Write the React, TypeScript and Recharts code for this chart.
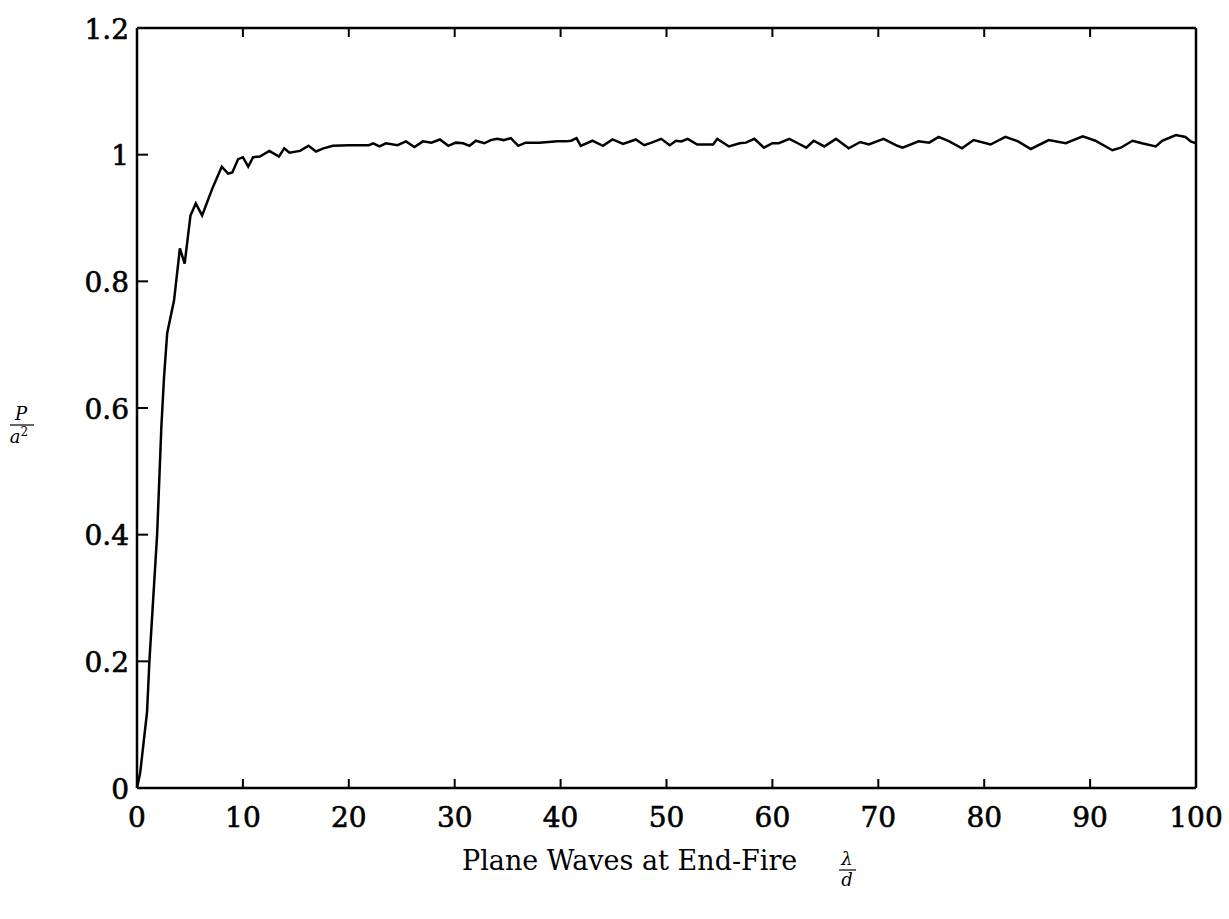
import { LineChart, Line, XAxis, YAxis } from "recharts";

// lambda / d values (x) and normalised power P / a^2 (y)
const lambdaOverD = [
  0, 0.3, 0.95, 1.17, 1.9, 2.3, 2.55, 2.85, 3.5, 4.05, 4.5, 5.05, 5.55, 6.15,
  7.1, 8.0, 8.6, 9.0, 9.55, 10.0, 10.5, 10.96, 11.6, 12.5, 13.4, 13.9, 14.4,
  15.4, 16.2, 16.9, 17.6, 18.5, 20.0, 21.9, 22.3, 22.9, 23.5, 24.6, 25.4, 26.2,
  27.0, 27.8, 28.6, 29.4, 30.1, 30.8, 31.4, 32.0, 32.8, 33.4, 34.0, 34.6, 35.3,
  36.0, 36.7, 38.0, 39.7, 40.5, 41.0, 41.5, 41.9, 43.0, 44.0, 44.9, 45.9, 47.1,
  47.9, 48.6, 49.5, 50.3, 50.9, 51.4, 52.0, 52.9, 54.4, 54.8, 55.9, 56.9, 57.5,
  58.3, 59.2, 60.0, 60.6, 61.6, 62.4, 63.2, 63.9, 64.9, 66.0, 67.2, 68.3, 69.1,
  70.5, 71.8, 72.3, 73.8, 74.8, 75.7, 76.7, 77.9, 79.0, 80.6, 82.0, 83.2, 84.4,
  86.1, 87.7, 89.3, 90.5, 92.1, 92.9, 94.0, 94.9, 96.2, 96.8, 98.1, 99.0, 99.5,
  100,
];

const powerRatio = [
  0, 0.024, 0.12, 0.2, 0.4, 0.57, 0.648, 0.718, 0.77, 0.852, 0.828, 0.904,
  0.923, 0.904, 0.946, 0.981, 0.97, 0.972, 0.993, 0.996, 0.981, 0.996, 0.997,
  1.006, 0.997, 1.01, 1.003, 1.006, 1.014, 1.005, 1.01, 1.014, 1.015, 1.015,
  1.018, 1.013, 1.018, 1.015, 1.021, 1.012, 1.021, 1.019, 1.024, 1.014, 1.019,
  1.018, 1.014, 1.022, 1.018, 1.023, 1.025, 1.023, 1.026, 1.014, 1.019, 1.019,
  1.021, 1.021, 1.022, 1.026, 1.014, 1.022, 1.014, 1.024, 1.017, 1.024, 1.015,
  1.019, 1.025, 1.015, 1.022, 1.021, 1.025, 1.016, 1.016, 1.025, 1.013, 1.018,
  1.019, 1.025, 1.011, 1.018, 1.018, 1.025, 1.018, 1.011, 1.022, 1.013, 1.025,
  1.01, 1.02, 1.016, 1.025, 1.014, 1.011, 1.021, 1.019, 1.028, 1.021, 1.01,
  1.023, 1.016, 1.028, 1.021, 1.009, 1.023, 1.018, 1.029, 1.022, 1.007, 1.011,
  1.022, 1.018, 1.013, 1.022, 1.031, 1.028, 1.021, 1.018,
];

const xTicks = [0, 10, 20, 30, 40, 50, 60, 70, 80, 90, 100];
const xTickLabels = ["0", "10", "20", "30", "40", "50", "60", "70", "80", "90", "100"];
const yTicks = [0, 0.2, 0.4, 0.6, 0.8, 1, 1.2];
const yTickLabels = ["0", "0.2", "0.4", "0.6", "0.8", "1", "1.2"];

const data = lambdaOverD.map((x, i) => ({ x, p: powerRatio[i] }));

const serif = { fontFamily: '"DejaVu Serif", "Liberation Serif", serif' };
const TICK_FONT = 28;
const TICK_LEN = 9;

const BottomTick = (props: any) => {
  const { x, y, payload } = props;
  const i = xTicks.indexOf(payload.value);
  return (
    <g>
      <line x1={x} y1={y} x2={x} y2={y - TICK_LEN} stroke="#000" strokeWidth={2} />
      <text
        x={x}
        y={y + 29}
        textAnchor="middle"
        dominantBaseline="central"
        style={serif}
        fontSize={TICK_FONT}
        fill="#000"
        stroke="#000"
        strokeWidth={0.6}
      >
        {xTickLabels[i]}
      </text>
    </g>
  );
};

const TopTick = (props: any) => {
  const { x, y } = props;
  return <line x1={x} y1={y} x2={x} y2={y + TICK_LEN} stroke="#000" strokeWidth={2} />;
};

const LeftTick = (props: any) => {
  const { x, y, payload } = props;
  const i = yTicks.indexOf(payload.value);
  return (
    <g>
      <line x1={x} y1={y} x2={x + TICK_LEN + 2} y2={y} stroke="#000" strokeWidth={2} />
      <text
        x={x - 8}
        y={y + 1}
        textAnchor="end"
        dominantBaseline="central"
        style={serif}
        fontSize={TICK_FONT}
        fill="#000"
        stroke="#000"
        strokeWidth={0.6}
      >
        {yTickLabels[i]}
      </text>
    </g>
  );
};

const RightTick = (props: any) => {
  const { x, y } = props;
  return <line x1={x} y1={y} x2={x - TICK_LEN - 2} y2={y} stroke="#000" strokeWidth={2} />;
};

export default function App() {
  const axisLine = { stroke: "#000", strokeWidth: 2.5 };
  return (
    <div style={{ position: "absolute", left: 0, top: 0, width: 1229, height: 919, background: "#fff" }}>
      <LineChart
        width={1229}
        height={919}
        data={data}
        margin={{ top: 27, right: 32, bottom: 101, left: 107 }}
      >
        <XAxis
          dataKey="x"
          type="number"
          domain={[0, 100]}
          ticks={xTicks}
          height={30}
          axisLine={axisLine}
          tickLine={false}
          tickSize={0}
          tickMargin={0}
          tick={<BottomTick />}
          interval={0}
        />
        <XAxis
          xAxisId="top"
          orientation="top"
          dataKey="x"
          type="number"
          domain={[0, 100]}
          ticks={xTicks}
          height={1}
          axisLine={axisLine}
          tickLine={false}
          tickSize={0}
          tickMargin={0}
          tick={<TopTick />}
          interval={0}
        />
        <YAxis
          type="number"
          domain={[0, 1.2]}
          ticks={yTicks}
          width={30}
          axisLine={axisLine}
          tickLine={false}
          tickSize={0}
          tickMargin={0}
          tick={<LeftTick />}
          interval={0}
        />
        <YAxis
          yAxisId="right"
          orientation="right"
          type="number"
          domain={[0, 1.2]}
          ticks={yTicks}
          width={1}
          axisLine={axisLine}
          tickLine={false}
          tickSize={0}
          tickMargin={0}
          tick={<RightTick />}
          interval={0}
        />
        <Line
          type="linear"
          dataKey="p"
          stroke="#000"
          strokeWidth={2.5}
          dot={false}
          isAnimationActive={false}
        />
      </LineChart>
      <svg
        width={1229}
        height={919}
        style={{ position: "absolute", left: 0, top: 0, pointerEvents: "none", ...serif }}
      >
        {/* y axis label: P / a^2 */}
        <g fontStyle="italic" fill="#000">
          <text x={21} y={420} textAnchor="middle" fontSize={18} style={serif}>P</text>
          <line x1={10} y1={425} x2={34} y2={425} stroke="#000" strokeWidth={1.2} />
          <text x={19} y={443} textAnchor="middle" fontSize={18} style={serif}>
            a<tspan dy={-7} fontSize={12} fontStyle="normal">2</tspan>
          </text>
        </g>
        {/* x axis label */}
        <text x={462} y={870} fontSize={27} fill="#000" style={serif}>
          Plane Waves at End-Fire
        </text>
        <g fontStyle="italic" fill="#000">
          <text x={847} y={865} textAnchor="middle" fontSize={18} style={serif}>λ</text>
          <line x1={839} y1={870} x2={856} y2={870} stroke="#000" strokeWidth={1.2} />
          <text x={847} y={886} textAnchor="middle" fontSize={18} style={serif}>d</text>
        </g>
      </svg>
    </div>
  );
}
